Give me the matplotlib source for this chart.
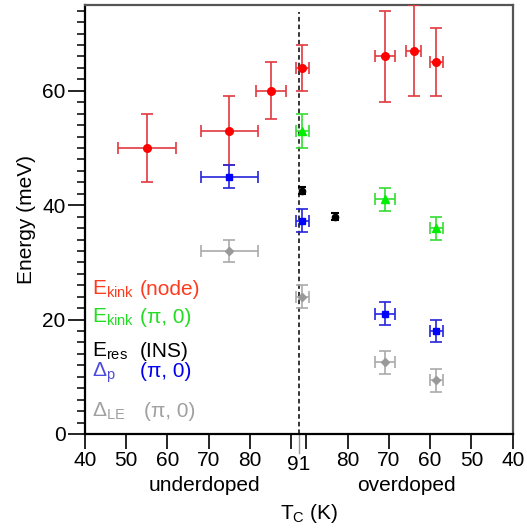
import matplotlib
matplotlib.use("Agg")
import matplotlib.pyplot as plt
import matplotlib.transforms as mtrans

plt.rcParams['font.family'] = ['Liberation Sans', 'DejaVu Sans']
plt.rcParams['mathtext.fontset'] = 'custom'
plt.rcParams['mathtext.rm'] = 'Liberation Sans'
plt.rcParams['mathtext.it'] = 'Liberation Sans:italic'

# folded Tc axis: underdoped runs 40 -> 91, overdoped runs 91 -> 40
GAP_END = 183.6


def fold(tc, side):
    return [t if s == 'u' else GAP_END - t for t, s in zip(tc, side)]


# E_kink (node)
red_tc = [55, 75, 85, 91, 71, 64, 58.5]
red_side = ['u', 'u', 'u', 'o', 'o', 'o', 'o']
red_e = [50, 53, 60, 64, 66, 67, 65]
red_yerr = [6, 6, 5, 4, 8, 8, 6]
red_xerr = [7, 7, 3.6, 1.6, 2.4, 1.8, 1.5]

# E_kink (pi, 0)
green_tc = [91, 71, 58.5]
green_side = ['o', 'o', 'o']
green_e = [53, 41, 36]
green_yerr = [3, 2, 2]
green_xerr = [1.6, 2.4, 1.5]

# E_res (INS)
black_tc = [91, 83]
black_side = ['o', 'o']
black_e = [42.5, 38]
black_yerr = [0.6, 0.6]

# Delta_p (pi, 0)
blue_tc = [75, 91, 71, 58.5]
blue_side = ['u', 'o', 'o', 'o']
blue_e = [45, 37.3, 21, 18]
blue_yerr = [2, 2, 2, 2]
blue_xerr = [7, 1.6, 2.4, 1.5]

# Delta_LE (pi, 0)
gray_tc = [75, 91, 71, 58.5]
gray_side = ['u', 'o', 'o', 'o']
gray_e = [32, 24, 12.5, 9.4]
gray_yerr = [2, 2, 2, 2]
gray_xerr = [7, 1.6, 2.4, 1.5]

tick_pos = [40, 50, 60, 70, 80, 90, GAP_END - 90, GAP_END - 80, GAP_END - 70,
            GAP_END - 60, GAP_END - 50, GAP_END - 40]
tick_lab = ['40', '50', '60', '70', '80', '', '', '80', '70', '60', '50', '40']

fig = plt.figure(figsize=(5.27, 5.29), dpi=100)
ax = fig.add_axes([0.161, 0.1796, 0.812, 0.811])

series = [
    (red_tc, red_side, red_e, red_yerr, red_xerr, 'o', '#ff0000', '#e23a3f', 5.5),
    (green_tc, green_side, green_e, green_yerr, green_xerr, '^', '#00ee00', '#33dd33', 5.5),
    (blue_tc, blue_side, blue_e, blue_yerr, blue_xerr, 's', '#0000ff', '#2525dd', 5),
    (gray_tc, gray_side, gray_e, gray_yerr, gray_xerr, 'D', '#999999', '#aaaaaa', 4),
]
for tc, side, e, yerr, xerr, mk, mc, ec, ms in series:
    ax.errorbar(fold(tc, side), e, yerr=yerr, xerr=xerr, fmt=mk, color=mc,
                ecolor=ec, ms=ms, mec=mc, elinewidth=1.2, capsize=4.5,
                capthick=1.2, zorder=3)

ax.errorbar(fold(black_tc, black_side), black_e, yerr=black_yerr, fmt='o',
            color='black', ms=4.5, elinewidth=1.2, capsize=3, capthick=1.5,
            zorder=3)

mid = (91 + GAP_END - 91) / 2
ax.plot([mid, mid], [0, 73.8], color='black', ls=(0, (3, 2)), lw=1.1, zorder=2)

ax.set_xlim(40, GAP_END - 40)
ax.set_ylim(0, 75)
ax.set_xticks(tick_pos)
ax.set_xticklabels(tick_lab)
ax.set_yticks([0, 20, 40, 60])
ax.set_yticks(range(0, 75, 2), minor=True)
ax.tick_params(axis='both', direction='out', labelsize=15, width=1.2,
               color='black')
ax.tick_params(axis='x', length=11, pad=1)
ax.tick_params(axis='y', which='major', length=12, pad=2)
ax.tick_params(axis='y', which='minor', length=6, width=1.1)
for sp in ax.spines.values():
    sp.set_color('#555555')
    sp.set_linewidth(1.6)
ax.spines['left'].set_color('black')
ax.spines['bottom'].set_color('black')

blend = mtrans.blended_transform_factory(ax.transData, ax.transAxes)
ax.plot([mid, mid], [0, -0.045], transform=blend, color='#999999', lw=1.0,
        clip_on=False)
ax.text(mid, -0.048, '91', transform=blend, ha='center', va='top', fontsize=15)
ax.text(69, -0.098, 'underdoped', transform=blend, ha='center', va='top',
        fontsize=15)
ax.text(117.8, -0.098, 'overdoped', transform=blend, ha='center', va='top',
        fontsize=15)
ax.text(94.4, -0.158, r'T$_{\rm C}$ (K)', transform=blend, ha='center',
        va='top', fontsize=15)

ax.set_ylabel('Energy (meV)', fontsize=15, labelpad=4)

# legend as coloured text
ytr = ax.get_yaxis_transform()
lx1 = 0.016
lx2 = 0.128
ax.text(lx1, 24.3, r'E$_{\rm kink}$', color='#ff3b1f', fontsize=15,
        transform=ytr, va='baseline')
ax.text(lx2, 24.3, '(node)', color='#ff3b1f', fontsize=15,
        transform=ytr, va='baseline')
ax.text(lx1, 19.4, r'E$_{\rm kink}$', color='#22dd22', fontsize=15,
        transform=ytr, va='baseline')
ax.text(lx2, 19.4, '(\u03c0, 0)', color='#22dd22', fontsize=15,
        transform=ytr, va='baseline')
ax.text(lx1, 13.5, r'E$_{\rm res}$', color='black', fontsize=15,
        transform=ytr, va='baseline')
ax.text(lx2, 13.5, '(INS)', color='black', fontsize=15,
        transform=ytr, va='baseline')
ax.text(lx1, 10.0, r'$\Delta_{\rm p}$', color='#4a4adf', fontsize=15,
        transform=ytr, va='baseline')
ax.text(lx2, 10.0, '(\u03c0, 0)', color='#0000ee', fontsize=15,
        transform=ytr, va='baseline')
ax.text(lx1, 3.0, r'$\Delta_{\rm LE}$', color='#a0a0a0', fontsize=15,
        transform=ytr, va='baseline')
ax.text(lx2 + 0.01, 3.0, '(\u03c0, 0)', color='#a0a0a0', fontsize=15,
        transform=ytr, va='baseline')

fig.savefig('out.png', dpi=100)
